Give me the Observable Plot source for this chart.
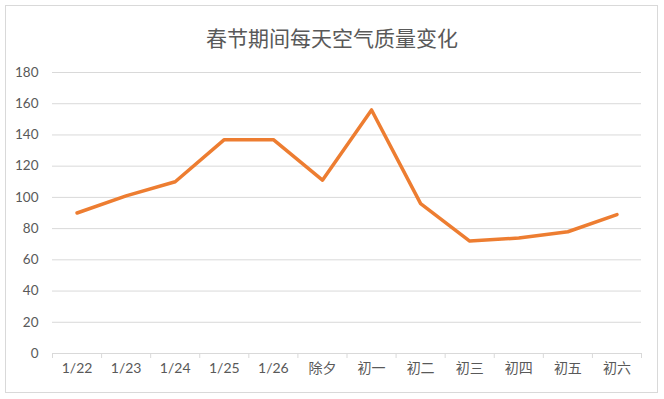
<!DOCTYPE html>
<html>
<head>
<meta charset="utf-8">
<script src="https://cdn.jsdelivr.net/npm/d3@7"></script>
<script src="https://cdn.jsdelivr.net/npm/@observablehq/plot@0.6"></script>
<style>
  html, body { margin: 0; padding: 0; background: #fff; }
  #wrap { position: relative; width: 664px; height: 399px; overflow: hidden; }
  #frame { position: absolute; left: 5px; top: 5px; width: 653px; height: 388px; border: 1px solid #d9d9d9; box-sizing: border-box; }
  #title { position: absolute; left: 0; top: 22px; width: 664px; text-align: center; font-family: "Noto Sans CJK SC", sans-serif; font-size: 21px; color: #595959; }
  #chart { position: absolute; left: 0; top: 0; }
</style>
</head>
<body>
<div id="wrap">
  <div id="frame"></div>
  <div id="chart"></div>
  <div id="title">春节期间每天空气质量变化</div>
</div>
<script>
const categories = ["1/22", "1/23", "1/24", "1/25", "1/26", "除夕", "初一", "初二", "初三", "初四", "初五", "初六"];
const values = [90, 101, 110, 137, 137, 111, 156, 96, 72, 74, 78, 89];
const yTicks = [0, 20, 40, 60, 80, 100, 120, 140, 160, 180];

const data = categories.map((c, i) => ({i, c, v: values[i]}));
const boundaries = d3.range(categories.length + 1).map(k => k - 0.5);
const font = "Lato, 'Noto Sans CJK SC', sans-serif";

const chart = Plot.plot({
  width: 664,
  height: 399,
  marginTop: 72,
  marginBottom: 46,
  marginLeft: 52,
  marginRight: 23,
  style: {fontFamily: font, fontSize: "14px", color: "#595959", background: "transparent"},
  x: {type: "linear", domain: [-0.5, categories.length - 0.5]},
  y: {domain: [0, 180]},
  marks: [
    Plot.gridY(yTicks, {stroke: "#d9d9d9", strokeOpacity: 1, strokeWidth: 1}),
    Plot.axisY(yTicks, {tickSize: 0, tickPadding: 14, label: null, fill: "#595959", fontSize: 13.5}),
    Plot.ruleY([0], {stroke: "#d9d9d9", strokeWidth: 1}),
    Plot.axisX(boundaries, {tickSize: 5, stroke: "#d9d9d9", tickFormat: () => "", label: null}),
    Plot.axisX(d3.range(categories.length), {tickSize: 0, tickPadding: 10, tickFormat: i => categories[i], label: null, fill: "#595959", fontSize: 14}),
    Plot.line(data, {x: "i", y: "v", stroke: "#ed7d31", strokeWidth: 3.5, strokeLinejoin: "round", strokeLinecap: "round"})
  ]
});
document.getElementById("chart").appendChild(chart);
</script>
</body>
</html>
